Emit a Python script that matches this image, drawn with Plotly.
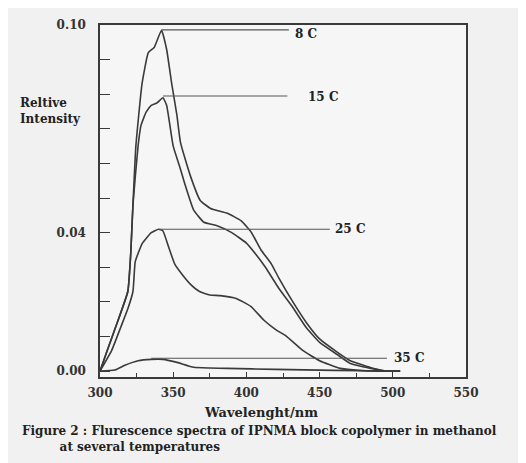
import plotly.graph_objects as go

# ---------------- data ----------------
wl_8 = [300, 305, 310.5, 319, 321, 322.5, 324.5, 328.7, 333, 337, 342, 345.5, 349, 352.5, 355,
        361.5, 368.5, 375.5, 387, 396.5, 403.5, 410, 417, 422, 431, 441, 450, 462, 471, 485, 496, 505]
int_8 = [0, 0.006, 0.0125, 0.023, 0.034, 0.048, 0.065, 0.083, 0.092, 0.0935, 0.0985, 0.093, 0.083,
         0.074, 0.066, 0.0567, 0.0493, 0.047, 0.0456, 0.0434, 0.040, 0.035, 0.031, 0.027, 0.0205,
         0.014, 0.0093, 0.0055, 0.003, 0.001, 0.0, 0.0]

wl_15 = [300, 305, 310.5, 319, 321, 322.5, 326, 328, 331.5, 335, 339, 343, 345.5, 350, 354.5, 358,
         364, 371, 380, 390, 400, 406, 413, 422, 431.5, 441, 450, 462, 471, 485, 496, 505]
int_15 = [0, 0.006, 0.0125, 0.023, 0.034, 0.048, 0.065, 0.071, 0.0748, 0.0768, 0.0775, 0.079, 0.0768,
          0.065, 0.059, 0.054, 0.0465, 0.043, 0.042, 0.040, 0.037, 0.034, 0.030, 0.024, 0.0185,
          0.0125, 0.0083, 0.0048, 0.0022, 0.0008, 0.0, 0.0]

wl_25 = [300, 308, 314, 319, 322.5, 324, 326, 329, 335, 340, 343, 347, 351, 356, 362, 368, 375, 382,
         393, 403, 412, 420, 427, 438.5, 450, 464, 475, 490, 505]
int_25 = [0, 0.006, 0.0125, 0.018, 0.023, 0.0315, 0.034, 0.037, 0.040, 0.041, 0.0405, 0.0357, 0.031,
          0.028, 0.025, 0.023, 0.022, 0.0218, 0.021, 0.0187, 0.0147, 0.012, 0.0102, 0.006, 0.003,
          0.0008, 0.0003, 0.0, 0.0]

wl_35 = [300, 310, 317, 326, 335, 343, 352, 364, 375, 387, 420, 460, 500, 505]
int_35 = [0, 0.0003, 0.0017, 0.003, 0.0034, 0.0034, 0.0026, 0.0011, 0.0009, 0.0008, 0.0005, 0.0002,
          0.0, 0.0]

series_wl = [wl_8, wl_15, wl_25, wl_35]
series_int = [int_8, int_15, int_25, int_35]

label_names = ["8 C", "15 C", "25 C", "35 C"]
label_level = [0.0986, 0.0795, 0.041, 0.0037]
label_line_start = [342, 343, 340, 335]
label_line_end = [429, 428, 457, 496]
label_text_x = [441, 452, 471, 511]
label_text_level = [0.0975, 0.0792, 0.041, 0.0037]

x_ticks = [300, 350, 400, 450, 500, 550]
x_minor = [325, 375, 425, 475, 525]
y_ticks = [0.0, 0.04, 0.10]
y_ticktext = ["0.00", "0.04", "0.10"]
y_minor = [0.01, 0.02, 0.03, 0.05, 0.06, 0.07, 0.08, 0.09]

caption_line1 = "Figure 2 : Flurescence spectra of IPNMA block copolymer in methanol"
caption_line2 = "at several temperatures"

# ---------------- figure ----------------
INK = "#3a3a3a"
FONT = "DejaVu Serif"

fig = go.Figure()
for wl, iv in zip(series_wl, series_int):
    fig.add_trace(go.Scatter(x=wl, y=iv, mode="lines",
                             line=dict(color=INK, width=1.6, shape="spline", smoothing=0.4),
                             hoverinfo="skip", showlegend=False))

for name, lev, x0, x1, tx, tl in zip(label_names, label_level, label_line_start,
                                     label_line_end, label_text_x, label_text_level):
    fig.add_trace(go.Scatter(x=[x0, x1], y=[lev, lev], mode="lines",
                             line=dict(color="#555555", width=1.1),
                             hoverinfo="skip", showlegend=False))
    fig.add_annotation(x=tx, y=tl, xref="x", yref="y", text=name, showarrow=False,
                       font=dict(family=FONT, size=12, color="#222222", weight="bold"))

fig.add_annotation(x=-0.223, y=0.757, xref="paper", yref="paper", xanchor="left",
                   yanchor="middle", align="left", showarrow=False,
                   text="Reltive<br>Intensity",
                   font=dict(family=FONT, size=12, color="#222222", weight="bold"))
fig.add_annotation(x=0.44, y=-0.1003, xref="paper", yref="paper", xanchor="center",
                   yanchor="middle", showarrow=False, text="Wavelenght/nm",
                   font=dict(family=FONT, size=13, color="#222222", weight="bold"))
fig.add_annotation(x=-0.218, y=-0.128, xref="paper", yref="paper", xanchor="left",
                   yanchor="top", align="left", showarrow=False,
                   text=caption_line1 + "<br>" + "&nbsp;" * 9 + caption_line2,
                   font=dict(family=FONT, size=12, color="#222222", weight="bold"))

fig.update_xaxes(range=[300, 550], tickmode="array", tickvals=x_ticks,
                 ticks="inside", ticklen=5, tickcolor=INK, showline=True, linecolor=INK,
                 linewidth=1.5, mirror=True, showgrid=False, zeroline=False,
                 ticklabelstandoff=4,
                 minor=dict(tickmode="array", tickvals=x_minor, ticks="inside", ticklen=4,
                            tickcolor=INK, showgrid=False),
                 tickfont=dict(family=FONT, size=12, color="#333333", weight="bold"))
fig.update_yaxes(range=[-0.0017, 0.1], tickmode="array", tickvals=y_ticks, ticktext=y_ticktext,
                 ticks="inside", ticklen=10, tickcolor=INK, showline=True, linecolor=INK,
                 linewidth=1.5, mirror=True, showgrid=False, zeroline=False,
                 ticklabelstandoff=10,
                 minor=dict(tickmode="array", tickvals=y_minor, ticks="inside", ticklen=10,
                            tickcolor=INK, showgrid=False),
                 tickfont=dict(family=FONT, size=12, color="#333333", weight="bold"))

# the page adds an 8px body margin, so the figure is 8px smaller to fit the window
fig.update_layout(width=518, height=455, margin=dict(l=92, r=60, t=10, b=86),
                  paper_bgcolor="#f1f1f1", plot_bgcolor="#f6f6f6", showlegend=False)

fig.write_html("out.html")
